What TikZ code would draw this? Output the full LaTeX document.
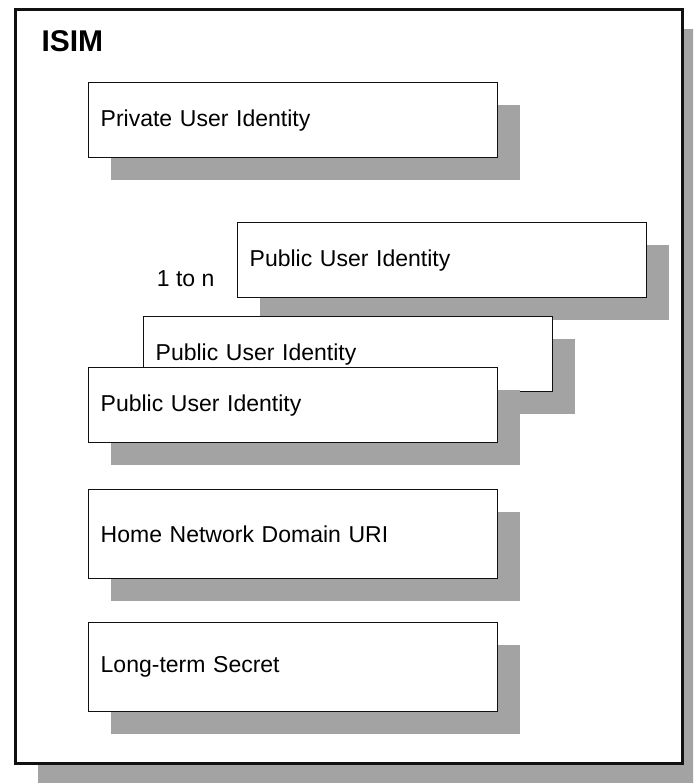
\documentclass[tikz,border=0pt]{standalone}
\usepackage{fontspec}
\setmainfont{Liberation Sans}
\usepackage{xcolor}
\usepackage{tikz}
\usetikzlibrary{shadows, positioning}
\definecolor{simshade}{HTML}{A3A3A3}
\definecolor{simline}{HTML}{111111}

\begin{document}
\begin{tikzpicture}[x=1pt, y=-1pt,
    cardbox/.style={rectangle, draw=simline, fill=white, line width=2.6pt, anchor=north west,
        minimum width=667pt, minimum height=754pt,
        drop shadow={shadow xshift=23pt, shadow yshift=-20pt, fill=simshade, opacity=1}},
    idbox/.style={rectangle, draw=simline, fill=white, line width=1.4pt, anchor=north west,
        text width=385pt, inner xsep=12pt, align=left, minimum height=75pt,
        font=\fontsize{23}{27}\selectfont,
        drop shadow={shadow xshift=22pt, shadow yshift=-22pt, fill=simshade, opacity=1}},
    tallbox/.style={idbox, minimum height=89pt}
]
\clip (0,0) rectangle (693,783);
\useasboundingbox (0,0) rectangle (693,783);

% ISIM card
\node[cardbox] (isim) at (14,8) {};
\node[font=\fontsize{30}{34}\selectfont\bfseries, anchor=west] (isimlabel) at (38,41) {ISIM};

% Private identity
\node[idbox] (priv) at (88,82) {Private User Identity};

% Public identities, back to front
\node[idbox] (pub3) at (237,222) {Public User Identity};
\node[idbox] (pub2) at (143,316) {Public User Identity};
\node[idbox] (pub1) at (88,367) {Public User Identity};
\node[font=\fontsize{23}{27}\selectfont, anchor=east] (count) at (218,279) {1 to n};

% Domain and secret
\node[tallbox] (domain) at (88,489) {Home Network Domain URI};
\node[tallbox] (secret) at (88,622) {Long-term Secret};

\end{tikzpicture}
\end{document}
